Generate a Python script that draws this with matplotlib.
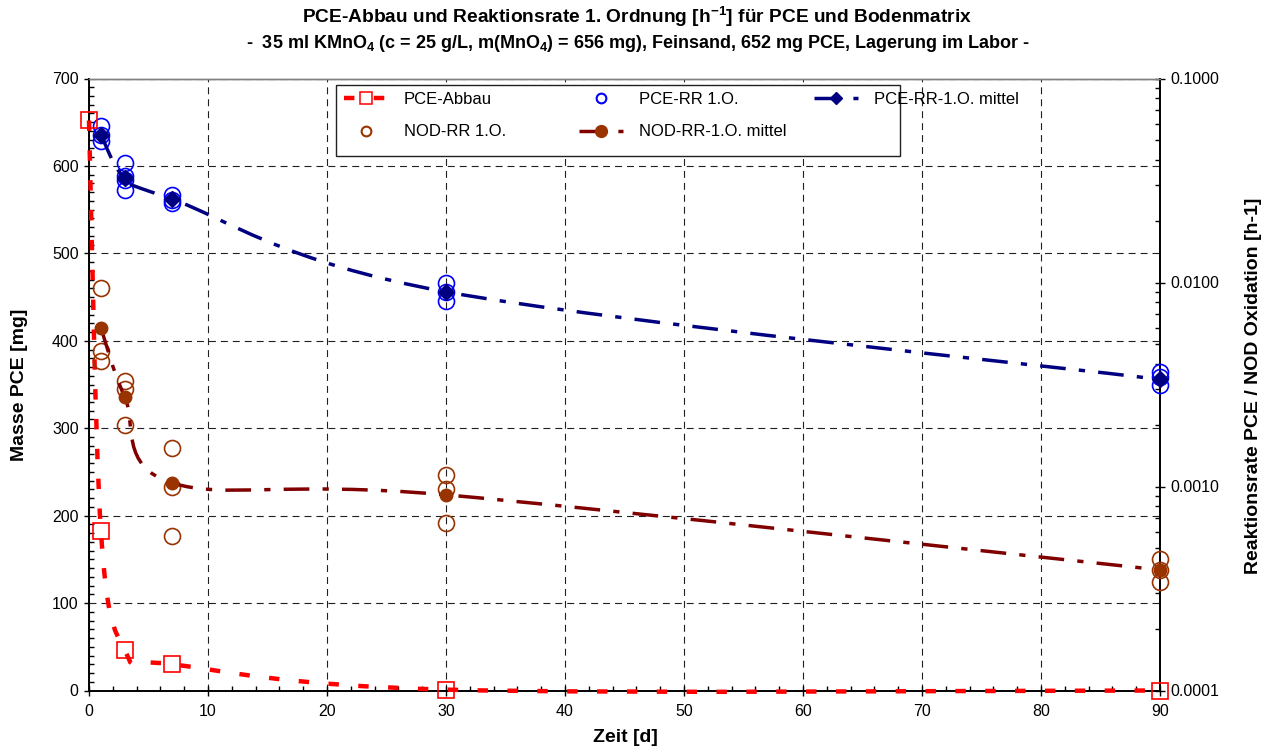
import numpy as np
import matplotlib
matplotlib.use("Agg")
import matplotlib.pyplot as plt
from matplotlib.path import Path
from matplotlib.patches import PathPatch, Rectangle
from matplotlib.lines import Line2D
from matplotlib.ticker import MultipleLocator, FixedLocator, LogLocator, FuncFormatter, NullFormatter

plt.rcParams['font.family'] = ['Liberation Sans', 'DejaVu Sans']
plt.rcParams['mathtext.fontset'] = 'custom'
plt.rcParams['mathtext.rm'] = 'Liberation Sans:bold'
plt.rcParams['mathtext.it'] = 'Liberation Sans:bold'
plt.rcParams['mathtext.bf'] = 'Liberation Sans:bold'
plt.rcParams['lines.scale_dashes'] = False

# ---- data -------------------------------------------------------------
days = [0, 1, 3, 7, 30, 90]
pce_mass = [652, 183, 46, 30, 1, 0]            # Masse PCE [mg]

rr_days = [1, 3, 7, 30, 90]
pce_rr_rep = [                                  # PCE-RR 1.O. [h-1], Einzelwerte
    [0.0582, 0.0531, 0.0492],
    [0.0385, 0.0331, 0.0319, 0.0285],
    [0.0269, 0.0254, 0.0245],
    [0.0099, 0.0090, 0.0081],
    [0.00365, 0.00345, 0.00314],
]
pce_rr_mean = [0.0531, 0.0325, 0.0256, 0.0090, 0.00335]

nod_rr_rep = [                                  # NOD-RR 1.O. [h-1], Einzelwerte
    [0.0094, 0.0046, 0.0041],
    [0.0033, 0.0030, 0.0020],
    [0.00155, 0.00100, 0.000575],
    [0.00114, 0.00097, 0.00066],
    [0.00044, 0.00039, 0.00034],
]
nod_rr_mean = [0.0060, 0.00275, 0.00104, 0.00091, 0.00039]

x_ticks = list(range(0, 91, 10))
y_ticks = list(range(0, 701, 100))
rate_ticks = [0.0001, 0.001, 0.01, 0.1]

# ---- colours ----------------------------------------------------------
RED = '#FF0000'
BLUE = '#0000FF'
NAVY = '#000080'
BROWN = '#993300'
DARKRED = '#800000'

W, H = 1275, 747
fig = plt.figure(figsize=(W / 100, H / 100), dpi=100)
ax = fig.add_axes([89 / W, 1 - 690.5 / H, (1160 - 89) / W, (690.5 - 78.5) / H])
ax2 = ax.twinx()

ax.set_xlim(0, 90)
ax.set_ylim(0, 700)
ax2.set_yscale('log')
ax2.set_ylim(1e-4, 1e-1)
ax.set_autoscale_on(False)
ax2.set_autoscale_on(False)


def smooth_path(xs, ys, log=False):
    """Cubic Bezier path through the points (Catmull-Rom style tangents)."""
    xs = np.asarray(xs, float)
    ys = np.asarray(ys, float)
    if log:
        ys = np.log10(ys)
    pts = np.column_stack([xs, ys])
    n = len(pts)
    verts = [pts[0]]
    codes = [Path.MOVETO]
    for i in range(n - 1):
        p0 = pts[i - 1] if i > 0 else pts[i]
        p1, p2 = pts[i], pts[i + 1]
        p3 = pts[i + 2] if i + 2 < n else pts[i + 1]
        c1 = p1 + (p2 - p0) / 6.0
        c2 = p2 - (p3 - p1) / 6.0
        verts += [c1, c2, p2]
        codes += [Path.CURVE4] * 3
    verts = np.array(verts)
    if log:
        verts[:, 1] = 10 ** verts[:, 1]
    return Path(verts, codes)


red_dash = (0, (7.5, 14.0))
dash_dot = (0, (18.5, 9.5, 4.5, 9.5))

# PCE-Abbau: left-axis data, drawn in the top axes so it lies over the axis lines
red_curve = PathPatch(smooth_path(days, pce_mass), fill=False, edgecolor=RED,
                      lw=3.2, linestyle=red_dash, capstyle='butt', zorder=3,
                      transform=ax.transData, clip_on=False)
ax2.add_artist(red_curve)
red_curve.set_clip_on(False)
red_pts = Line2D(days, pce_mass, linestyle='none', marker='s', ms=11.5,
                 mfc='none', mec=RED, mew=1.2, zorder=4,
                 transform=ax.transData, clip_on=False)
ax2.add_artist(red_pts)
red_pts.set_clip_on(False)

# reaction rates (right axis, log)
for d, vals in zip(rr_days, pce_rr_rep):
    ax2.plot([d] * len(vals), vals, linestyle='none', marker='o', ms=11.5,
             mfc='none', mec=BLUE, mew=1.2, zorder=3, clip_on=False)
for d, vals in zip(rr_days, nod_rr_rep):
    ax2.plot([d] * len(vals), vals, linestyle='none', marker='o', ms=11.5,
             mfc='none', mec=BROWN, mew=1.2, zorder=3, clip_on=False)

ax2.add_patch(PathPatch(smooth_path(rr_days, pce_rr_mean, log=True), fill=False,
                        edgecolor=NAVY, lw=2.5, linestyle=dash_dot, zorder=4))
ax2.plot(rr_days, pce_rr_mean, linestyle='none', marker='D', ms=8.5, mfc=NAVY,
         mec=NAVY, zorder=5, clip_on=False)
ax2.add_patch(PathPatch(smooth_path(rr_days, nod_rr_mean, log=True), fill=False,
                        edgecolor=DARKRED, lw=2.5, linestyle=dash_dot, zorder=4))
ax2.plot(rr_days, nod_rr_mean, linestyle='none', marker='o', ms=9, mfc=BROWN,
         mec=BROWN, zorder=5, clip_on=False)

# ---- axes -------------------------------------------------------------
ax.set_xlim(0, 90)
ax.set_ylim(0, 700)
ax2.set_ylim(1e-4, 1e-1)

ax.xaxis.set_major_locator(FixedLocator(x_ticks))
ax.xaxis.set_minor_locator(MultipleLocator(2))
ax.yaxis.set_major_locator(FixedLocator(y_ticks))
ax.yaxis.set_minor_locator(MultipleLocator(10))
ax2.yaxis.set_major_locator(FixedLocator(rate_ticks))
ax2.yaxis.set_minor_locator(LogLocator(base=10, subs=np.arange(2, 10)))
ax2.yaxis.set_minor_formatter(NullFormatter())
ax2.yaxis.set_major_formatter(FuncFormatter(lambda v, p: f'{v:.4f}'))

ax.grid(True, which='major', color='#202020', lw=0.8, linestyle=(0, (5.0, 3.6)))
ax.set_axisbelow(True)

for a in (ax, ax2):
    a.spines['top'].set_color('#808080')
    a.spines['top'].set_linewidth(1.0)
    for s in ('left', 'bottom', 'right'):
        a.spines[s].set_color('black')
        a.spines[s].set_linewidth(1.2)
    a.set_facecolor('none')

ax.tick_params(axis='x', which='major', direction='inout', length=7, width=1.0,
               labelsize=11.5, pad=6)
ax.tick_params(axis='x', which='minor', direction='in', length=3.5, width=1.0)
ax.tick_params(axis='y', which='major', direction='out', length=3.5, width=1.0,
               labelsize=11.5, pad=4)
ax.tick_params(axis='y', which='minor', direction='in', length=3.5, width=1.0)
ax2.tick_params(axis='y', which='major', direction='inout', length=7, width=1.0,
                labelsize=11.5, pad=4)
ax2.tick_params(axis='y', which='minor', direction='in', length=3.5, width=1.0)

# ---- texts ------------------------------------------------------------
fig.text(0.5, 1 - 17 / H,
         r'PCE-Abbau und Reaktionsrate 1. Ordnung [h$^{\mathregular{-1}}$] für PCE und Bodenmatrix',
         ha='center', va='center', fontsize=13.8, fontweight='bold')
fig.text(0.5, 1 - 43 / H,
         r'-  35 ml KMnO$_{\mathregular{4}}$ (c = 25 g/L, m(MnO$_{\mathregular{4}}$) = 656 mg), '
         r'Feinsand, 652 mg PCE, Lagerung im Labor -',
         ha='center', va='center', fontsize=13, fontweight='bold')
fig.text(20 / W, 1 - 385 / H, 'Masse PCE [mg]', rotation=90, ha='center',
         va='center', fontsize=14, fontweight='bold')
fig.text(1253 / W, 1 - 386 / H, 'Reaktionsrate PCE / NOD Oxidation [h-1]',
         rotation=90, ha='center', va='center', fontsize=14, fontweight='bold')
fig.text(625 / W, 1 - 737 / H, 'Zeit [d]', ha='center', va='center',
         fontsize=14, fontweight='bold')

# ---- legend -----------------------------------------------------------
h_abbau = Line2D([], [], color=RED, lw=3.2, linestyle=red_dash, marker='s',
                 ms=8.5, mfc='white', mec=RED, mew=1.1)
h_pce = Line2D([], [], linestyle='none', marker='o', ms=7, mfc='none', mec=BLUE,
               mew=1.5)
h_pce_m = Line2D([], [], color=NAVY, lw=2.5, linestyle=dash_dot, marker='D',
                 ms=6, mfc=NAVY, mec=NAVY)
h_nod = Line2D([], [], linestyle='none', marker='o', ms=7, mfc='none', mec=BROWN,
               mew=1.5)
h_nod_m = Line2D([], [], color=DARKRED, lw=2.5, linestyle=dash_dot, marker='o',
                 ms=8.5, mfc=BROWN, mec=BROWN)

fig.add_artist(Rectangle((336 / W, 1 - 156 / H), (900 - 336) / W, (156 - 84.5) / H,
                         transform=fig.transFigure, facecolor='white',
                         edgecolor='#202020', lw=1.0, zorder=4))

columns = [
    ([h_abbau, h_nod], ['PCE-Abbau', 'NOD-RR 1.O.'], 404),
    ([h_pce, h_nod_m], ['PCE-RR 1.O.', 'NOD-RR-1.O. mittel'], 639),
    ([h_pce_m], ['PCE-RR-1.O. mittel'], 874),
]
fs = 12
fs_px = fs / 72 * 100
hlen_px = 44
pad_px = 16
for handles, labels, text_x in columns:
    x0 = text_x - pad_px - hlen_px
    leg = fig.legend(handles, labels, loc='upper left',
                     bbox_to_anchor=(x0 / W, 1 - 92 / H),
                     bbox_transform=fig.transFigure, frameon=False,
                     borderpad=0, borderaxespad=0, numpoints=1,
                     handlelength=hlen_px / fs_px, handletextpad=pad_px / fs_px,
                     labelspacing=1.05, fontsize=fs)
    leg.set_zorder(5)

fig.savefig('out.png', dpi=100)
